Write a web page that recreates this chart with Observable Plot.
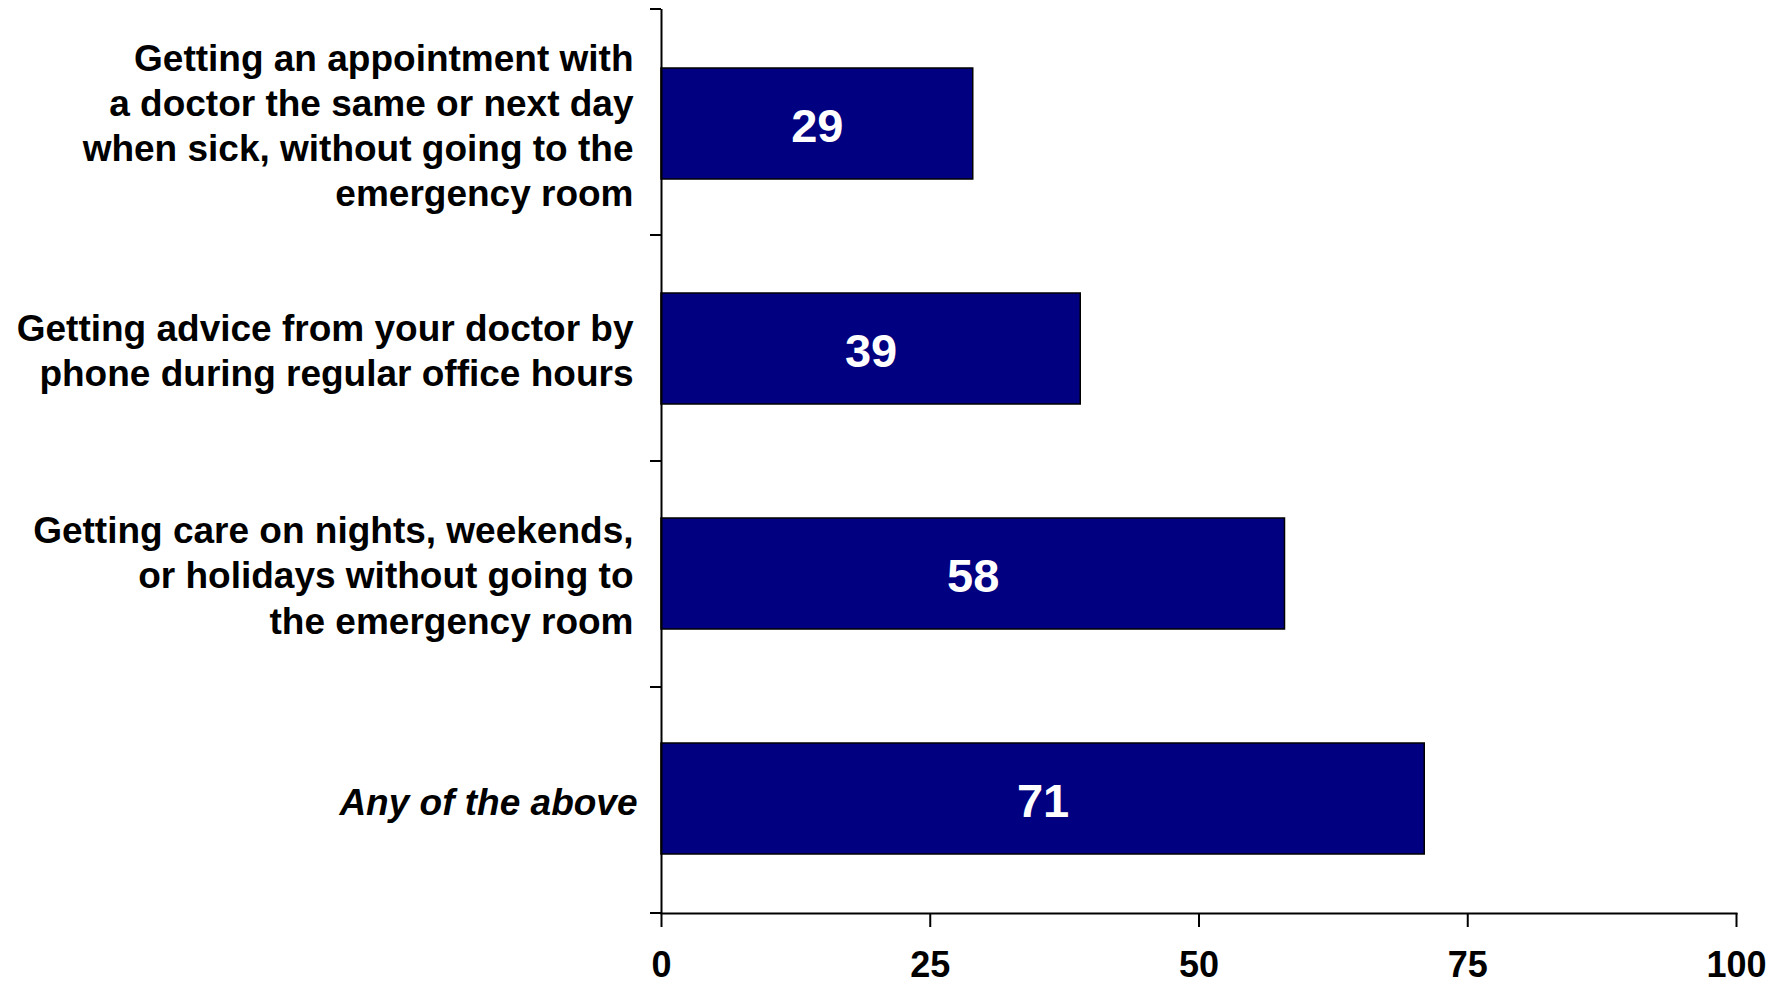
<!DOCTYPE html>
<html>
<head>
<meta charset="utf-8">
<script src="https://cdn.jsdelivr.net/npm/d3@7"></script>
<script src="https://cdn.jsdelivr.net/npm/@observablehq/plot@0.6"></script>
<style>
  html, body { margin: 0; padding: 0; background: #fff; }
  #chart svg { display: block; }
</style>
</head>
<body>
<div id="chart"></div>
<script>
const categories = [
  "Getting an appointment with\na doctor the same or next day\nwhen sick, without going to the\nemergency room",
  "Getting advice from your doctor by\nphone during regular office hours",
  "Getting care on nights, weekends,\nor holidays without going to\nthe emergency room",
  "Any of the above"
];
const values = [29, 39, 58, 71];
const xTicks = [0, 25, 50, 75, 100];
const italicCategory = "Any of the above";

const data = categories.map((c, i) => ({category: c, value: values[i]}));

function boundaryTicks(index, scales, vals, dimensions) {
  const {marginTop, marginBottom, marginLeft, height} = dimensions;
  const n = categories.length;
  const step = (height - marginTop - marginBottom) / n;
  const g = d3.create("svg:g").attr("stroke", "#000").attr("stroke-width", 2);
  for (let i = 0; i <= n; i++) {
    const y = marginTop + i * step;
    g.append("line").attr("x1", marginLeft - 11).attr("x2", marginLeft).attr("y1", y).attr("y2", y);
  }
  return g.node();
}

const chart = Plot.plot({
  width: 1785,
  height: 986,
  marginLeft: 661,
  marginRight: 49,
  marginTop: 9,
  marginBottom: 73,
  style: {fontFamily: "'Liberation Sans', Arial, sans-serif", color: "#000", background: "#fff"},
  x: {domain: [0, 100], axis: null},
  y: {domain: categories, paddingInner: 0.505, paddingOuter: 0.255, axis: null},
  marks: [
    Plot.barX(data, {x: "value", y: "category", fill: "#000080", stroke: "#000", strokeWidth: 1.5}),
    Plot.text(data, {x: d => d.value / 2, y: "category", text: d => String(d.value), fill: "#fff", fontSize: 47, fontWeight: "bold", dy: 3}),
    Plot.text(data.filter(d => d.category !== italicCategory), {x: 0, y: "category", text: "category", textAnchor: "end", dx: -28, fontSize: 37, fontWeight: "bold", lineHeight: 1.22, fill: "#000"}),
    Plot.text(data.filter(d => d.category === italicCategory), {x: 0, y: "category", text: "category", textAnchor: "end", dx: -24, dy: 4, fontSize: 37, fontWeight: "bold", fontStyle: "italic", fill: "#000"}),
    Plot.ruleX([0], {stroke: "#000", strokeWidth: 2}),
    Plot.frame({anchor: "bottom", stroke: "#000", strokeWidth: 2}),
    boundaryTicks,
    Plot.axisX({ticks: xTicks, tickSize: 14, tickPadding: 24, fontSize: 36, fontWeight: "bold", stroke: "#000", strokeWidth: 2, fill: "#000", label: null})
  ]
});
document.getElementById("chart").appendChild(chart);
</script>
</body>
</html>
